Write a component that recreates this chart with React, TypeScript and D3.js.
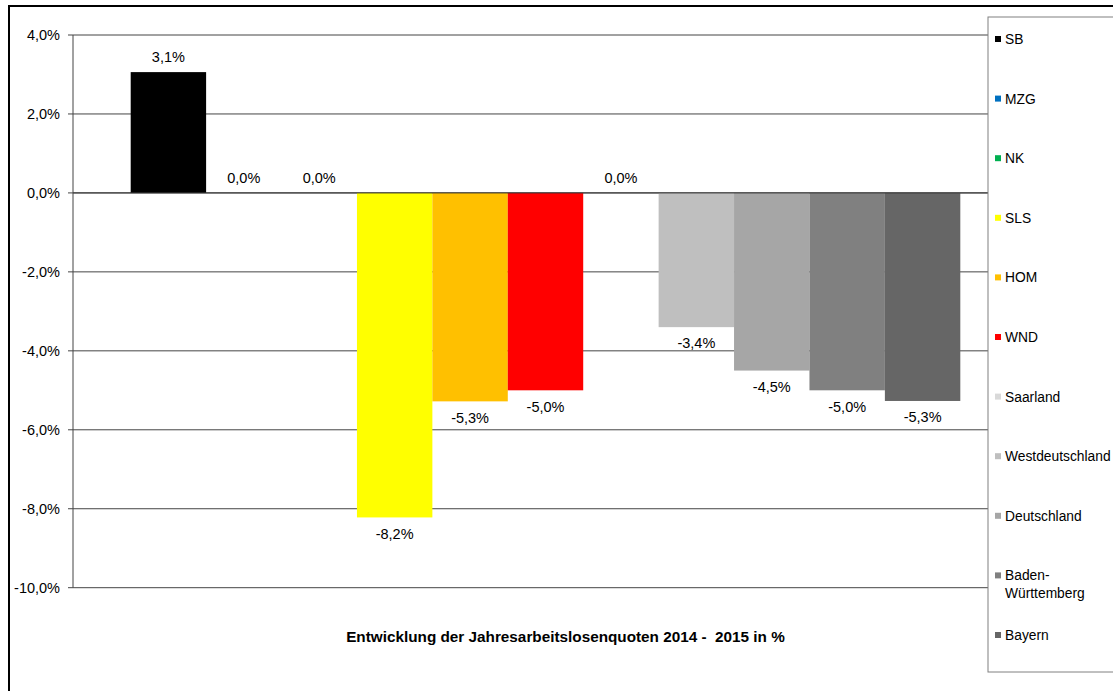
import React from "react";
import * as d3 from "d3";

const series = ["SB", "MZG", "NK", "SLS", "HOM", "WND", "Saarland", "Westdeutschland", "Deutschland", "Baden-Württemberg", "Bayern"];
const legendLines = [["SB"], ["MZG"], ["NK"], ["SLS"], ["HOM"], ["WND"], ["Saarland"], ["Westdeutschland"], ["Deutschland"], ["Baden-", "Württemberg"], ["Bayern"]];
const values = [3.06, 0, 0, -8.22, -5.28, -5.0, 0, -3.4, -4.5, -5.0, -5.27];
const colors = ["#000000", "#0070C0", "#00B050", "#FFFF00", "#FFC000", "#FF0000", "#D9D9D9", "#BFBFBF", "#A6A6A6", "#808080", "#666666"];
const yTicks = [4, 2, 0, -2, -4, -6, -8, -10];
const title = "Entwicklung der Jahresarbeitslosenquoten 2014 -  2015 in %";

const locale = d3.formatLocale({ decimal: ",", thousands: ".", grouping: [3], currency: ["", "€"], minus: "-" });
const fmt = locale.format(".1f");

const W = 1113;
const H = 691;
const FONT = "'Liberation Sans', Arial, sans-serif";

export default function App() {
  const plotLeft = 73;
  const plotRight = 1018;
  const y = d3.scaleLinear().domain([-10, 4]).range([587.7, 35]);
  const x = d3.scaleBand<string>().domain(series).range([plotLeft, plotRight]).paddingInner(0).paddingOuter(0.765);
  const legendY = d3.scaleLinear().domain([0, series.length - 1]).range([39, 635]);

  return (
    <svg width={W} height={H} style={{ position: "absolute", left: 0, top: 0, background: "#fff" }} fontFamily={FONT}>
      <rect x={0} y={0} width={W} height={H} fill="#fff" />
      {/* outer frame */}
      <rect x={9} y={6} width={W + 20} height={H + 20} fill="none" stroke="#000" strokeWidth={2} />
      {/* gridlines */}
      {yTicks.map((t) => (
        <g key={t}>
          <line x1={plotLeft} x2={plotRight} y1={y(t)} y2={y(t)} stroke="#454545" strokeWidth={1} />
          <line x1={plotLeft - 5} x2={plotLeft} y1={y(t)} y2={y(t)} stroke="#454545" strokeWidth={1} />
          <text x={60} y={y(t)} dy="0.36em" textAnchor="end" fontSize={14.5} fill="#000">
            {fmt(t) + "%"}
          </text>
        </g>
      ))}
      {/* bars */}
      {series.map((s, i) => {
        const v = values[i];
        const x0 = x(s)!;
        const top = y(Math.max(0, v));
        const bot = y(Math.min(0, v));
        return v !== 0 ? (
          <rect key={s} x={x0} y={top} width={x.bandwidth()} height={bot - top} fill={colors[i]} />
        ) : null;
      })}
      {/* zero line */}
      <line x1={plotLeft} x2={plotRight} y1={y(0)} y2={y(0)} stroke="#333" strokeWidth={1} />
      {/* y axis */}
      <line x1={plotLeft} x2={plotLeft} y1={y(4)} y2={y(-10)} stroke="#454545" strokeWidth={1} />
      {/* data labels */}
      {series.map((s, i) => {
        const v = values[i];
        const cx = x(s)! + x.bandwidth() / 2;
        const ly = v >= 0 ? y(v) - 15 : y(v) + 16;
        return (
          <text key={s} x={cx} y={ly} dy="0.36em" textAnchor="middle" fontSize={14.5} fill="#000">
            {fmt(v) + "%"}
          </text>
        );
      })}
      {/* title */}
      <text x={565.5} y={636} dy="0.36em" textAnchor="middle" fontSize={15.3} fontWeight="bold" fill="#000" style={{ whiteSpace: "pre" }}>
        {title}
      </text>
      {/* legend */}
      <rect x={988} y={17} width={200} height={655} fill="#fff" stroke="#808080" strokeWidth={1} />
      {series.map((s, i) => {
        const ly = legendY(i);
        return (
          <g key={s}>
            <rect x={995} y={ly - 3} width={6} height={6} fill={colors[i]} />
            {legendLines[i].map((line, j) => (
              <text key={j} x={1005} y={ly + j * 18} dy="0.36em" fontSize={13.8} fill="#000">
                {line}
              </text>
            ))}
          </g>
        );
      })}
    </svg>
  );
}
